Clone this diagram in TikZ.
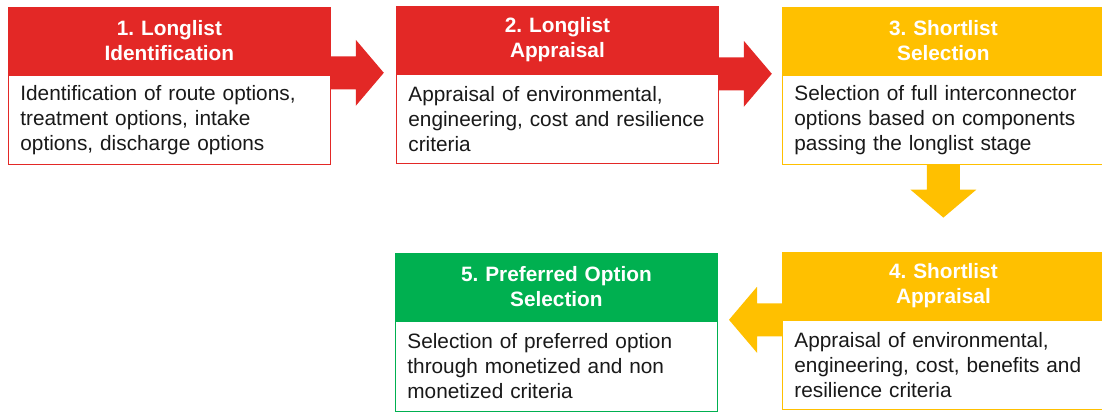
\documentclass[tikz,border=0pt]{standalone}
\usepackage{fontspec}
\setmainfont{Liberation Sans}
\usetikzlibrary{calc}
\frenchspacing

\definecolor{stepred}{RGB}{227,40,38}
\definecolor{stepyellow}{RGB}{255,192,0}
\definecolor{stepgreen}{RGB}{0,176,80}

\begin{document}
\begin{tikzpicture}[x=1pt,y=-1pt,
  head/.style={fill=#1,draw=#1,line width=0.8pt,text=white,
    font=\fontsize{20.8pt}{25pt}\selectfont\bfseries,
    minimum width=322pt,minimum height=67pt,text width=300pt,
    align=center,inner sep=0pt,anchor=north west},
  body/.style={fill=white,draw=#1,line width=0.8pt,text=black!90,
    font=\fontsize{20.8pt}{25pt}\selectfont,
    minimum width=322pt,minimum height=89pt,text width=298pt,
    align=left,inner xsep=12pt,inner ysep=0pt,anchor=north west},
  pics/blockarrow/.style={code={
    \fill[#1] (0,-16.5) -- (25,-16.5) -- (25,-33) -- (53,0)
      -- (25,33) -- (25,16.5) -- (0,16.5) -- cycle;}}]
  \useasboundingbox (0,0) rectangle (1102,412);

  % top row
  \node[head=stepred] (h1) at (8,7) {1. Longlist\\Identification};
  \node[body=stepred] (b1) at (h1.south west)
    {Identification of route options,\\treatment options, intake\\options, discharge options};

  \node[head=stepred] (h2) at (396,6) {2. Longlist\\Appraisal};
  \node[body=stepred] (b2) at (h2.south west)
    {Appraisal of environmental,\\engineering, cost and resilience\\criteria};

  \node[head=stepyellow] (h3) at (782,7) {3. Shortlist\\Selection};
  \node[body=stepyellow] (b3) at (h3.south west)
    {Selection of full interconnector\\options based on components\\passing the longlist stage};

  % bottom row
  \node[head=stepyellow] (h4) at (782,252) {4. Shortlist\\Appraisal};
  \node[body=stepyellow] (b4) at (h4.south west)
    {Appraisal of environmental,\\engineering, cost, benefits and\\resilience criteria};

  \node[head=stepgreen] (h5) at (395,253) {5. Preferred Option\\Selection};
  \node[body=stepgreen,minimum height=90pt] (b5) at (h5.south west)
    {Selection of preferred option\\through monetized and non\\monetized criteria};

  % block arrows between the stages
  \pic at ($(h1.south east)+(0,-2)$) {blockarrow=stepred};
  \pic at (h2.south east) {blockarrow=stepred};
  \pic[rotate=-90] at (b3.south) {blockarrow=stepyellow};
  \pic[rotate=180] at (h4.south west) {blockarrow=stepyellow};
\end{tikzpicture}
\end{document}
